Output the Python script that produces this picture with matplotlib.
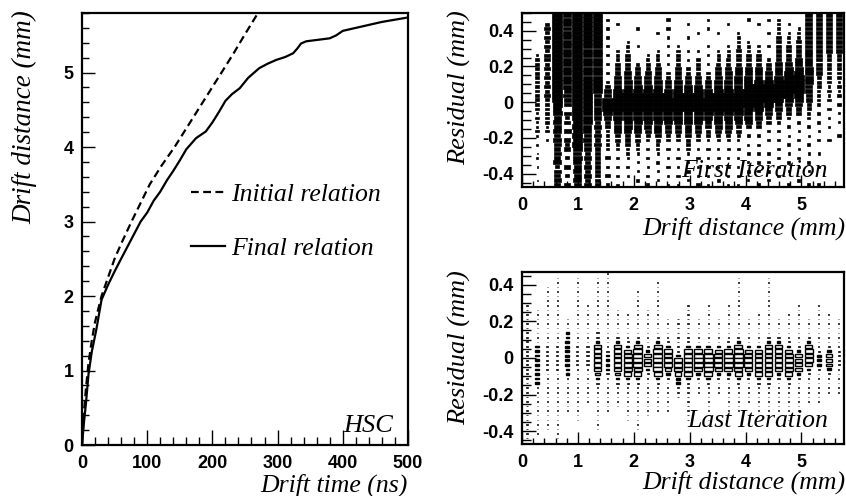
import numpy as np
import matplotlib
matplotlib.use("Agg")
import matplotlib.pyplot as plt
from matplotlib.ticker import MultipleLocator

plt.rcParams["font.family"] = "Liberation Sans"
SERIF = dict(family="Liberation Serif", style="italic", weight="normal")

# ── drift-time / drift-distance relations (HSC) ─────────────────────
t_final = [0, 3, 6, 10, 15, 22, 30, 40, 50, 60, 75, 90, 100, 110, 120,
           130, 140, 150, 160, 175, 190, 200, 210, 220, 230, 242, 255,
           272, 285, 298, 312, 324, 330, 336, 344, 362, 380, 390, 400,
           420, 440, 460, 480, 500]
d_final = [0, 0.3, 0.55, 0.95, 1.25, 1.55, 1.95, 2.15, 2.33, 2.5, 2.75,
           3.0, 3.12, 3.28, 3.4, 3.55, 3.68, 3.82, 3.97, 4.12, 4.21, 4.33,
           4.47, 4.62, 4.71, 4.79, 4.93, 5.06, 5.12, 5.17, 5.21, 5.26,
           5.32, 5.39, 5.42, 5.44, 5.46, 5.5, 5.56, 5.6, 5.64, 5.68, 5.71,
           5.74]
t_init = [0, 3, 6, 10, 15, 20, 30, 40, 50, 60, 76, 90, 104, 122, 142,
          160, 178, 196, 214, 232, 249, 270]
d_init = [0, 0.45, 0.75, 1.1, 1.4, 1.65, 2.0, 2.25, 2.5, 2.7, 3.0, 3.25,
          3.5, 3.75, 4.0, 4.25, 4.5, 4.75, 5.0, 5.25, 5.5, 5.8]

# ── residual vs drift distance, box histograms ──────────────────────
# one string per drift-distance bin, one digit (0-9 content) per residual
# bin, written from the top (+0.4875) to the bottom (-0.4875)
dist_centers = [0.09, 0.27, 0.45, 0.63, 0.81, 0.99, 1.17, 1.35, 1.53, 1.71,
                1.89, 2.07, 2.25, 2.43, 2.61, 2.79, 2.97, 3.15, 3.33, 3.51,
                3.69, 3.87, 4.05, 4.23, 4.41, 4.59, 4.77, 4.95, 5.13, 5.31,
                5.49, 5.67]
res_edges = np.linspace(0.5, -0.5, 41)

first_iter = [
    "0000000000" "0000000000" "0000000000" "0000000000",
    "0000000002" "4434434344" "3323223202" "0120100100",
    "0045454545" "5454545454" "4343323020" "0000000000",
    "9999999999" "9999999999" "8786767576" "5657465656",
    "7777777777" "7777777676" "6064506054" "5040504050",
    "9999999999" "9999999999" "9999898989" "8787676767",
    "8888888888" "8888888888" "8888877676" "6565656565",
    "8888888888" "8888888877" "7676565656" "5454545454",
    "0202020202" "0202034679" "9987543323" "3040304030",
    "0030000023" "3455667899" "9988766543" "3020302020",
    "0000002334" "4556677899" "9988776554" "3320302002",
    "0003000200" "0345667899" "9988766543" "3202020302",
    "0000000002" "3445667899" "9988765430" "3030203030",
    "0000300023" "3455677899" "9988766543" "3203020203",
    "0303020202" "0203456789" "9988765430" "3020302020",
    "0000000233" "4455677899" "9988765430" "2030203020",
    "0020020020" "2034567899" "9988766543" "3202030202",
    "0000200020" "3344567899" "9988765430" "2030202030",
    "0202000202" "0203456789" "9987654320" "3020302020",
    "0000200023" "3455677899" "9987765430" "2030200302",
    "0020000233" "4456677899" "9987665430" "3020302020",
    "0000233344" "4566777899" "9987654320" "3020203020",
    "0300002334" "4566778999" "9877640302" "0302030200",
    "0020000234" "4566789999" "9876540302" "0203020030",
    "0200200200" "3456789999" "8765402030" "0302030200",
    "0233344455" "5667899998" "7654303020" "3020203000",
    "0020233445" "5678999987" "6543030203" "0203020030",
    "0002334455" "6678999987" "6540302030" "2030200302",
    "6666666666" "6677776655" "4433030203" "0203020030",
    "5555555555" "5555444333" "3030302030" "0200200030",
    "5555555554" "4433332323" "0302020030" "0000000000",
    "5555555554" "4433323230" "3020200300" "0000000000",
]

last_iter = [
    "0000000011" "1111222222" "2222211111" "1111111100",
    "0000000001" "1111111333" "3333331111" "1111111000",
    "0000111111" "1111111222" "2221111111" "1111110000",
    "0011111111" "1111111222" "2221111111" "1111111100",
    "0000000000" "0111334444" "4433111111" "1100000000",
    "0011111111" "1111111222" "2211111111" "1111000000",
    "0000000011" "1111111222" "2211111111" "0000000000",
    "0011111111" "1111223677" "7765321111" "1111110000",
    "0111111111" "1111111123" "3332111111" "1100000000",
    "0000000001" "1111123677" "7765321111" "1000000000",
    "0000000000" "1111112367" "7776321111" "1111000000",
    "0000011111" "1111123788" "8876321111" "1111110000",
    "0000000001" "1111111236" "6632111111" "1110000000",
    "0001111111" "1111123788" "8887321111" "1100000000",
    "0000000000" "0111112377" "7763211111" "1100000000",
    "0000000000" "0111111123" "7776432110" "0000000000",
    "0000000011" "1111112378" "8887321111" "1111000000",
    "0000000000" "0111111378" "8873211100" "0000000000",
    "0000000011" "1111111378" "8887321111" "1111000000",
    "0000000000" "0111111367" "7763211100" "0000000000",
    "0000000011" "1111112378" "8873211111" "1100000000",
    "0011111111" "1111123788" "8876321111" "1100000000",
    "0000000000" "0111111367" "7763211111" "0000000000",
    "0000000000" "1111111367" "7776321111" "1100000000",
    "0011111111" "1111123677" "7776321111" "1100000000",
    "0000000000" "0111123677" "7763211111" "1100000000",
    "0000000000" "1111112367" "7776321111" "1111000000",
    "0000000011" "1111111236" "6663211111" "1100000000",
    "0000000000" "0111123677" "7632111111" "0000000000",
    "0000000011" "1111111124" "4421111111" "0000000000",
    "0000000000" "1111111245" "5542111100" "0000000000",
    "0000000000" "0111111122" "2211111100" "0000000000",
]


def draw_boxes(ax, cols, hollow):
    bw = dist_centers[1] - dist_centers[0]
    bh = res_edges[0] - res_edges[1]
    yc = (res_edges[:-1] + res_edges[1:]) / 2
    xs, ys, ws, hs, fc, lw = [], [], [], [], [], []
    for x, col in zip(dist_centers, cols):
        for i, ch in enumerate(col):
            n = int(ch)
            if n == 0:
                continue
            f = n / 9
            xs.append(x); ys.append(yc[i]); ws.append(f * bw)
            if hollow:
                hs.append(f * bh)
                fc.append("white" if n >= 5 else "black")
                lw.append(1.0 if n >= 3 else 0.5)
            else:
                hs.append(np.sqrt(f) * bh)
                fc.append("black")
                lw.append(0.5)
    hs = np.array(hs); ys = np.array(ys)
    ax.bar(xs, hs, width=ws, bottom=ys - hs / 2, color=fc,
           edgecolor="black", linewidth=lw, zorder=2)


def style(ax, xmaj, xmin, ymaj, ymin, xlen, ylen, size):
    ax.xaxis.set_major_locator(MultipleLocator(xmaj))
    ax.xaxis.set_minor_locator(MultipleLocator(xmin))
    ax.yaxis.set_major_locator(MultipleLocator(ymaj))
    ax.yaxis.set_minor_locator(MultipleLocator(ymin))
    ax.tick_params(which="both", direction="in", top=False, right=False,
                   width=1.0, labelsize=size)
    ax.tick_params(axis="x", which="major", length=xlen[0], pad=7)
    ax.tick_params(axis="x", which="minor", length=xlen[1])
    ax.tick_params(axis="y", which="major", length=ylen[0], pad=6)
    ax.tick_params(axis="y", which="minor", length=ylen[1])
    for lab in ax.get_xticklabels() + ax.get_yticklabels():
        lab.set_fontweight("bold")
    for s in ax.spines.values():
        s.set_linewidth(1.6)


fig = plt.figure(figsize=(8.46, 4.96), dpi=100)

# ── left: drift relation ───────────────────────────────────────────
ax = fig.add_axes([0.0969, 0.1028, 0.3853, 0.871])
ax.plot(t_init, d_init, "k", lw=1.6, dashes=(3.5, 2.0),
        label="Initial relation")
ax.plot(t_final, d_final, "k", lw=1.6, label="Final relation")
ax.set_xlim(0, 500); ax.set_ylim(0, 5.8)
ax.xaxis.set_major_formatter(lambda v, p: f"{v:.0f}")
ax.yaxis.set_major_formatter(lambda v, p: f"{v:.0f}")
style(ax, 100, 20, 1, 0.2, (11, 5.5), (9, 5), 13)
ax.legend(loc="upper left", bbox_to_anchor=(0.335, 0.607), frameon=False,
          handlelength=1.32, handletextpad=0.25, labelspacing=1.2,
          borderpad=0, borderaxespad=0, prop=dict(SERIF, size=18.5))
ax.text(0.955, 0.03, "HSC", transform=ax.transAxes, ha="right",
        va="baseline", fontsize=19, **SERIF)
ax.text(1.0, -0.093, "Drift time (ns)", transform=ax.transAxes,
        ha="right", va="center", fontsize=18.5, **SERIF)
ax.text(-0.175, 1.007, "Drift distance (mm)", transform=ax.transAxes,
        rotation=90, ha="center", va="top", fontsize=19.5, **SERIF)

# ── right: residual histograms ─────────────────────────────────────
panels = [([0.617, 0.623, 0.3806, 0.351], first_iter, False,
           (-0.475, 0.5), "First Iteration", 0.057, -0.236, 1.017),
          ([0.617, 0.1048, 0.3806, 0.347], last_iter, True,
           (-0.47, 0.47), "Last Iteration", 0.10, -0.222, 1.01)]
for rect, cols, hollow, ylim, tag, ty, xly, yly in panels:
    a = fig.add_axes(rect)
    draw_boxes(a, cols, hollow)
    a.set_xlim(0, 5.76); a.set_ylim(*ylim)
    a.xaxis.set_major_formatter(lambda v, p: f"{v:.0f}")
    a.yaxis.set_major_formatter(lambda v, p: "0" if abs(v) < 1e-9 else f"{v:.1f}")
    style(a, 1, 0.2, 0.2, 0.05, (8.5, 4), (10, 6.5), 13)
    a.text(0.95, ty, tag, transform=a.transAxes, ha="right",
           va="baseline", fontsize=18.5, zorder=5, **SERIF)
    a.text(1.003, xly, "Drift distance (mm)", transform=a.transAxes,
           ha="right", va="center", fontsize=18.5, **SERIF)
    a.text(-0.193, yly, "Residual (mm)", transform=a.transAxes,
           rotation=90, ha="center", va="top", fontsize=19, **SERIF)

fig.savefig("out.png", dpi=100)
